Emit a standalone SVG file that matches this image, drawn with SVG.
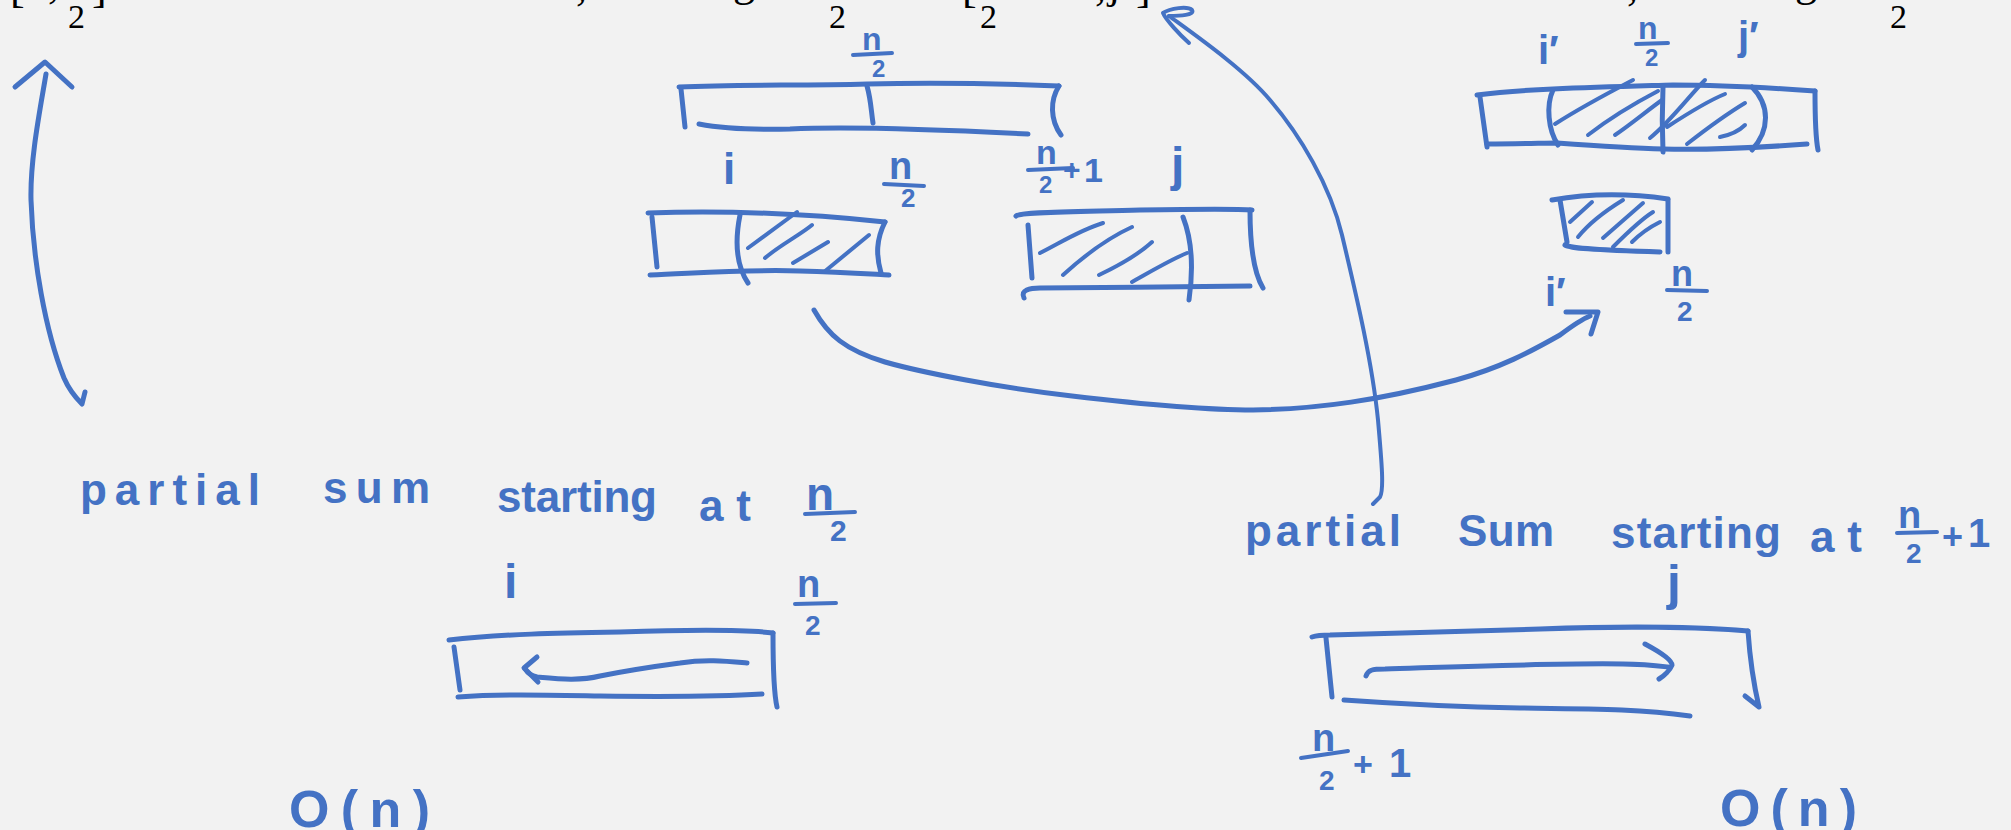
<svg xmlns="http://www.w3.org/2000/svg" width="2011" height="830" viewBox="0 0 2011 830">
<style>
.s{fill:none;stroke:#4472c4;stroke-width:5;stroke-linecap:round;stroke-linejoin:round}
.t{stroke-width:4}
.h{font-family:"Liberation Sans",Arial,sans-serif;fill:#4472c4;font-weight:bold}
.k{font-family:"Liberation Serif","Times New Roman",serif;fill:#000}
</style>
<rect width="2011" height="830" fill="#f2f2f2"/>
<g id="header-fragments">
<text class="k" x="10" y="2" font-size="44">[</text>
<text class="k" x="48" y="-2" font-size="44">,</text>
<text class="k" x="68" y="28" font-size="34">2</text>
<text class="k" x="92" y="2" font-size="44">]</text>
<text class="k" x="576" y="0" font-size="44">,</text>
<text class="k" x="733" y="-4" font-size="44">g</text>
<text class="k" x="829" y="28" font-size="34">2</text>
<text class="k" x="962" y="2" font-size="44">[</text>
<text class="k" x="980" y="28" font-size="34">2</text>
<text class="k" x="1095" y="0" font-size="44">,</text>
<text class="k" x="1108" y="-2" font-size="44">j</text>
<text class="k" x="1136" y="2" font-size="44">]</text>
<text class="k" x="1627" y="0" font-size="44">,</text>
<text class="k" x="1795" y="-4" font-size="44">g</text>
<text class="k" x="1890" y="28" font-size="34">2</text>
</g>
<g id="connectors">
<path class="s" d="M15,87 L45,62 L72,87"/>
<path class="s" d="M46,74 C40,110 30,160 31,200 C33,260 45,330 64,378 C70,392 78,400 82,404 L85,392"/>
<path class="s t" d="M1189,43 C1180,35 1166,20 1163,13 C1170,8 1188,6 1192,10 C1195,15 1180,16 1169,16"/>
<path class="s t" d="M1169,16 C1195,35 1245,70 1270,100 C1300,135 1330,185 1342,235 C1355,290 1372,360 1378,420 C1382,465 1384,490 1380,497 L1373,504"/>
<path class="s" d="M814,310 C828,335 845,350 885,362 C920,372 1000,388 1072,396 C1140,404 1200,410 1253,410 C1320,409 1380,400 1456,380 C1500,368 1530,352 1560,335 C1572,326 1580,320 1590,316"/>
<path class="s" d="M1566,312 L1598,312 L1591,334"/>
</g>
<g id="top-array">
<path class="s" d="M679,87 C740,84 800,86 867,84 C950,82 1010,84 1059,86"/>
<path class="s" d="M681,89 L685,127"/>
<path class="s" d="M699,124 C720,128 750,130 790,129 C850,126 950,130 1028,134"/>
<path class="s" d="M867,86 C871,100 871,110 873,123"/>
<path class="s" d="M1059,86 C1050,100 1050,120 1061,135"/>
<text class="h" x="862" y="50" font-size="32">n</text>
<path class="s t" d="M853,55 L892,53"/>
<text class="h" x="872" y="77" font-size="24">2</text>
</g>
<g id="left-half">
<text class="h" x="723" y="184" font-size="44">i</text>
<text class="h" x="889" y="179" font-size="38">n</text>
<path class="s t" d="M884,184 L924,186"/>
<text class="h" x="901" y="207" font-size="26">2</text>
<path class="s" d="M648,213 C700,211 780,211 885,222"/>
<path class="s" d="M652,217 L657,267"/>
<path class="s" d="M650,275 C700,273 750,269 800,271 C840,272 870,274 889,275"/>
<path class="s" d="M885,222 C876,240 876,255 881,273"/>
<path class="s" d="M740,215 C735,240 736,265 748,283"/>
<path class="s t" d="M748,248 L797,212 M765,258 C780,245 800,235 812,225 M793,263 L828,242 M824,272 L869,235"/>
</g>
<g id="right-half">
<text class="h" x="1036" y="164" font-size="34">n</text>
<path class="s t" d="M1028,170 L1073,168"/>
<text class="h" x="1039" y="193" font-size="24">2</text>
<text class="h" x="1063" y="180" font-size="30">+</text>
<text class="h" x="1084" y="182" font-size="34">1</text>
<text class="h" x="1171" y="181" font-size="48">j</text>
<path class="s" d="M1016,216 C1020,212 1060,212 1140,210 C1200,209 1240,209 1252,210"/>
<path class="s" d="M1028,225 L1032,278"/>
<path class="s" d="M1024,298 C1020,290 1030,288 1040,288 C1100,288 1200,286 1250,286"/>
<path class="s" d="M1250,210 C1250,240 1252,270 1263,288"/>
<path class="s" d="M1183,217 C1192,240 1194,265 1189,300"/>
<path class="s t" d="M1040,253 C1060,243 1080,230 1103,223 M1063,275 C1085,255 1110,237 1132,227 M1099,275 C1120,265 1140,253 1152,242 M1132,282 C1150,272 1170,260 1187,253"/>
</g>
<g id="crossing-array">
<text class="h" x="1538" y="64" font-size="40">i′</text>
<text class="h" x="1638" y="39" font-size="32">n</text>
<path class="s t" d="M1636,44 L1668,43"/>
<text class="h" x="1645" y="66" font-size="24">2</text>
<text class="h" x="1738" y="50" font-size="40">j′</text>
<path class="s" d="M1477,95 C1500,92 1530,90 1553,89 C1600,87 1640,86 1673,85 C1720,85 1760,87 1815,91"/>
<path class="s" d="M1480,97 L1487,147"/>
<path class="s" d="M1487,144 C1520,144 1545,143 1557,143 C1600,146 1630,148 1663,149 C1700,150 1740,149 1807,144"/>
<path class="s" d="M1815,91 C1815,110 1815,135 1818,150"/>
<path class="s" d="M1553,90 C1546,105 1548,130 1558,145"/>
<path class="s" d="M1663,87 C1662,110 1662,130 1663,152"/>
<path class="s" d="M1752,87 C1770,105 1770,130 1752,150"/>
<path class="s t" d="M1555,124 C1580,108 1610,92 1633,80 M1588,135 C1610,118 1635,103 1658,91 M1615,135 C1630,125 1648,110 1662,100 M1650,138 C1670,122 1690,95 1705,80 M1667,127 C1690,112 1710,100 1725,94 M1687,144 C1705,130 1725,115 1745,103 M1720,137 C1730,135 1740,130 1745,125"/>
</g>
<g id="left-suffix">
<path class="s" d="M1552,200 C1580,195 1620,192 1668,199"/>
<path class="s" d="M1560,200 L1567,242"/>
<path class="s" d="M1565,245 C1570,248 1590,250 1660,252"/>
<path class="s" d="M1668,200 L1668,252"/>
<path class="s t" d="M1570,222 L1592,202 M1578,237 C1590,222 1610,208 1623,200 M1603,238 L1643,203 M1613,247 C1625,235 1640,220 1653,212 M1632,242 C1640,234 1650,227 1660,222"/>
<text class="h" x="1545" y="306" font-size="40">i′</text>
<text class="h" x="1671" y="286" font-size="36">n</text>
<path class="s t" d="M1667,290 L1707,291"/>
<text class="h" x="1677" y="321" font-size="28">2</text>
</g>
<g id="left-partial-sum">
<text class="h" x="80" y="505" font-size="44" textLength="180" lengthAdjust="spacing">partial</text>
<text class="h" x="323" y="503" font-size="44" textLength="107" lengthAdjust="spacing">sum</text>
<text class="h" x="497" y="512" font-size="44" textLength="160" lengthAdjust="spacing">starting</text>
<text class="h" x="699" y="521" font-size="44" textLength="52" lengthAdjust="spacing">at</text>
<text class="h" x="806" y="510" font-size="46">n</text>
<path class="s t" d="M805,514 L855,512"/>
<text class="h" x="830" y="541" font-size="30">2</text>
<text class="h" x="504" y="598" font-size="48">i</text>
<text class="h" x="797" y="597" font-size="38">n</text>
<path class="s t" d="M795,604 L836,603"/>
<text class="h" x="805" y="635" font-size="28">2</text>
<path class="s" d="M449,640 C500,634 560,633 620,632 C680,630 740,629 773,633"/>
<path class="s" d="M454,647 L460,690"/>
<path class="s" d="M458,697 C500,694 540,695 600,696 C680,697 730,696 762,694"/>
<path class="s" d="M773,633 C773,655 773,690 777,707"/>
<path class="s" d="M747,663 C725,661 705,659 680,663 C650,667 620,672 600,676 C580,681 560,679 537,677 C530,675 527,672 526,670"/>
<path class="s" d="M537,657 L524,668 L538,682"/>
<text class="h" x="289" y="827" font-size="52" textLength="141" lengthAdjust="spacing">O(n)</text>
</g>
<g id="right-partial-sum">
<text class="h" x="1245" y="546" font-size="44" textLength="156" lengthAdjust="spacing">partial</text>
<text class="h" x="1458" y="546" font-size="44" textLength="96" lengthAdjust="spacing">Sum</text>
<text class="h" x="1611" y="548" font-size="44" textLength="170" lengthAdjust="spacing">starting</text>
<text class="h" x="1810" y="552" font-size="44" textLength="52" lengthAdjust="spacing">at</text>
<text class="h" x="1898" y="528" font-size="38">n</text>
<path class="s t" d="M1897,533 L1937,532"/>
<text class="h" x="1906" y="563" font-size="28">2</text>
<text class="h" x="1942" y="549" font-size="36">+</text>
<text class="h" x="1968" y="547" font-size="40">1</text>
<text class="h" x="1667" y="600" font-size="50">j</text>
<path class="s" d="M1312,637 C1318,635 1325,635 1330,635 C1400,633 1480,631 1540,629 C1620,626 1700,627 1748,631"/>
<path class="s" d="M1326,638 L1332,697"/>
<path class="s" d="M1344,700 C1400,704 1460,707 1520,708 C1600,709 1640,709 1690,716"/>
<path class="s" d="M1748,631 C1750,660 1755,690 1759,707 L1745,696"/>
<path class="s" d="M1366,676 C1368,670 1372,669 1385,669 C1450,667 1550,663 1623,664 C1645,664 1660,666 1668,667"/>
<path class="s" d="M1645,644 C1660,652 1672,660 1672,665 C1670,670 1664,676 1659,679"/>
<text class="h" x="1312" y="751" font-size="38">n</text>
<path class="s t" d="M1301,758 L1348,751"/>
<text class="h" x="1319" y="790" font-size="28">2</text>
<text class="h" x="1353" y="776" font-size="34">+</text>
<text class="h" x="1389" y="777" font-size="40">1</text>
<text class="h" x="1720" y="826" font-size="52" textLength="137" lengthAdjust="spacing">O(n)</text>
</g>
</svg>
